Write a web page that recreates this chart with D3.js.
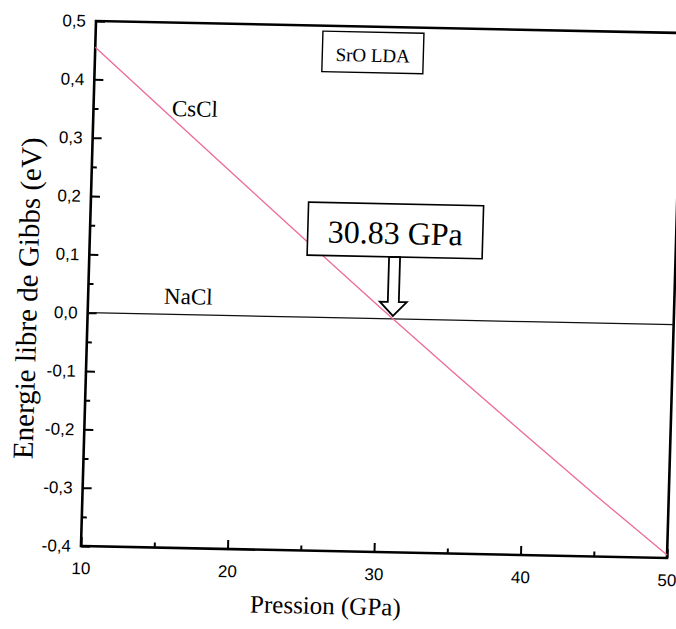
<!DOCTYPE html>
<html>
<head>
<meta charset="utf-8">
<script src="https://cdn.jsdelivr.net/npm/d3@7"></script>
<style>
  html, body { margin: 0; padding: 0; background: #fff; }
  svg { display: block; }
</style>
</head>
<body>
<svg id="chart" width="676" height="629"></svg>
<script>
// Pressure grid (GPa) and Gibbs free energy of each phase (eV), NaCl taken as reference
const pressure = [10, 15, 20, 25, 30, 35, 40, 45, 50];
const gibbsCsCl = [0.455, 0.345, 0.235, 0.126, 0.018, -0.088, -0.192, -0.295, -0.395];
const gibbsNaCl = [0, 0, 0, 0, 0, 0, 0, 0, 0];

// Axis ticks
const yMajorTicks = [-0.4, -0.3, -0.2, -0.1, 0, 0.1, 0.2, 0.3, 0.4, 0.5];
const yMinorTicks = [-0.35, -0.25, -0.15, -0.05, 0.05, 0.15, 0.25, 0.35];
const xMajorTicks = [10, 20, 30, 40, 50];
const xMinorTicks = [15, 25, 35, 45];

// Transition pressure CsCl <- NaCl
const transitionPressure = 30.83;
const transitionLabel = "30.83 GPa";
const systemLabel = "SrO LDA";

const W = 586, H = 525;
const svg = d3.select("#chart");
svg.append("rect").attr("width", 676).attr("height", 629).attr("fill", "#fff");

// The whole figure sits slightly tilted on the page
const g = svg.append("g").attr("transform", "matrix(1,0.0205,-0.0286,1,96,21)");

const x = d3.scaleLinear().domain([10, 50]).range([0, W]);
const y = d3.scaleLinear().domain([-0.4, 0.5]).range([H, 0]);

const sans = "'Liberation Sans', Arial, sans-serif";
const serif = "'Liberation Serif', 'Times New Roman', serif";
const commaFmt = d => (+d).toFixed(1).replace(".", ",");

function styleAxis(sel, width) {
  sel.select(".domain").remove();
  sel.selectAll(".tick line").attr("stroke", "#000").attr("stroke-width", width);
  sel.selectAll(".tick text").attr("fill", "#000").style("font-family", sans).style("font-size", "17px");
}

// Y axis, ticks pointing inward
g.append("g")
  .call(d3.axisLeft(y).tickValues(yMajorTicks).tickSize(-9).tickPadding(10).tickFormat(commaFmt))
  .call(s => styleAxis(s, 2));
g.append("g")
  .call(d3.axisLeft(y).tickValues(yMinorTicks).tickSize(-5).tickFormat(""))
  .call(s => styleAxis(s, 2));

// X axis
g.append("g").attr("transform", `translate(0,${H})`)
  .call(d3.axisBottom(x).tickValues(xMajorTicks).tickSize(-9).tickPadding(16).tickFormat(d3.format("d")))
  .call(s => styleAxis(s, 2));
g.append("g").attr("transform", `translate(0,${H})`)
  .call(d3.axisBottom(x).tickValues(xMinorTicks).tickSize(-5).tickFormat(""))
  .call(s => styleAxis(s, 2));

// Frame
g.append("rect").attr("width", W).attr("height", H)
  .attr("fill", "none").attr("stroke", "#000").attr("stroke-width", 2.6);

// Curves
const line = d3.line().x(d => x(d[0])).y(d => y(d[1]));
g.append("path")
  .datum(d3.zip(pressure, gibbsNaCl))
  .attr("d", line).attr("fill", "none").attr("stroke", "#111").attr("stroke-width", 1.3);
g.append("path")
  .datum(d3.zip(pressure, gibbsCsCl))
  .attr("d", line).attr("fill", "none").attr("stroke", "#ee6a9a").attr("stroke-width", 1.3);

// Phase labels
g.append("text").attr("x", x(15.35)).attr("y", y(0.34))
  .style("font-family", serif).style("font-size", "23px").text("CsCl");
g.append("text").attr("x", x(15.18)).attr("y", y(0.018))
  .style("font-family", serif).style("font-size", "23px").text("NaCl");

// System label box
const sysCx = x(28.95);
g.append("rect").attr("x", sysCx - 50.5).attr("y", 5.5).attr("width", 101).attr("height", 40.5)
  .attr("fill", "#fff").attr("stroke", "#000").attr("stroke-width", 1.4);
g.append("text").attr("x", sysCx).attr("y", 35).attr("text-anchor", "middle")
  .style("font-family", serif).style("font-size", "19px").text(systemLabel);

// Transition pressure annotation with hollow arrow
const tx = x(transitionPressure);
const y0 = y(0);
const boxTop = y0 - 115, boxBottom = y0 - 62;
g.append("rect").attr("x", tx - 87.5).attr("y", boxTop).attr("width", 175).attr("height", boxBottom - boxTop)
  .attr("fill", "#fff").attr("stroke", "#000").attr("stroke-width", 1.6);
g.append("text").attr("x", tx).attr("y", boxBottom - 13).attr("text-anchor", "middle")
  .style("font-family", serif).style("font-size", "32px").text(transitionLabel);

const tip = y0 - 3, headTop = tip - 14;
const arrowPts = [
  [tx - 5.5, boxBottom], [tx + 5.5, boxBottom], [tx + 5.5, headTop], [tx + 13.5, headTop],
  [tx, tip], [tx - 13.5, headTop], [tx - 5.5, headTop]
];
g.append("polygon").attr("points", arrowPts.map(p => p.join(",")).join(" "))
  .attr("fill", "#fff").attr("stroke", "#000").attr("stroke-width", 1.8).attr("stroke-linejoin", "miter");

// Axis titles
g.append("text").attr("transform", `translate(-51,${H / 2 + 16}) rotate(-90)`).attr("text-anchor", "middle")
  .style("font-family", serif).style("font-size", "29px").text("Energie libre de Gibbs (eV)");
g.append("text").attr("x", 246).attr("y", H + 63).attr("text-anchor", "middle")
  .style("font-family", serif).style("font-size", "25px").text("Pression (GPa)");
</script>
</body>
</html>
